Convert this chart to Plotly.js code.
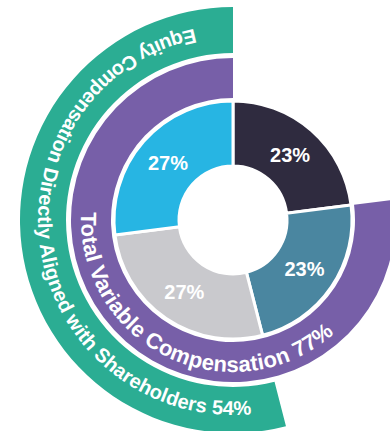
<!DOCTYPE html>
<html>
<head>
<meta charset="utf-8">
<script src="https://cdn.plot.ly/plotly-3.0.1.min.js"></script>
<style>
  html, body { margin: 0; padding: 0; overflow: hidden; background: #fff; }
  #chart { width: 466px; height: 440px; }
</style>
</head>
<body>
<div id="chart"></div>
<script>
// inner donut: pay mix shares (clockwise from 12 o'clock)
const innerValues = [23, 23, 27, 27];
const innerColors = ['#2f2b3f', '#4a86a0', '#c9c9cd', '#27b5e3'];

// outer rings
const variableShare = 77;   // purple ring
const equityShare = 54;     // green ring
const variableLabel = 'Total Variable Compensation ' + variableShare + '%';
const equityLabel = 'Equity Compensation Directly Aligned with Shareholders ' + equityShare + '%';

const W = 466, H = 440;           // figure is wider than the window, centre sits at (233, 220)
const CX = W / 2, CY = H / 2;

// pie domain centred on the figure with a given pixel radius
function dom(r) {
    return { x: [0.5 - r / W, 0.5 + r / W], y: [0.5 - r / H, 0.5 + r / H] };
}

const common = {
    type: 'pie',
    sort: false,
    direction: 'clockwise',
    rotation: 0,
    hoverinfo: 'skip',
    showlegend: false
};

const greenRing = Object.assign({}, common, {
    values: [100 - equityShare, equityShare],
    domain: dom(213),
    hole: 167 / 213,
    textinfo: 'none',
    marker: { colors: ['rgba(0,0,0,0)', '#2bad93'], line: { width: 0 } }
});

const purpleRing = Object.assign({}, common, {
    values: [100 - variableShare, variableShare],
    domain: dom(162),
    hole: 122 / 162,
    textinfo: 'none',
    marker: { colors: ['rgba(0,0,0,0)', '#775fa8'], line: { width: 0 } }
});

const innerDonut = Object.assign({}, common, {
    values: innerValues,
    domain: dom(119),
    hole: 54 / 119,
    texttemplate: '%{value}%',
    textposition: 'inside',
    insidetextorientation: 'horizontal',
    textfont: { family: 'Liberation Sans, Arial, sans-serif', size: 20, color: '#ffffff', weight: 'bold' },
    marker: { colors: innerColors, line: { color: '#ffffff', width: 3 } }
});

const layout = {
    width: W,
    height: H,
    margin: { l: 0, r: 0, t: 0, b: 0 },
    paper_bgcolor: '#ffffff',
    showlegend: false
};

// curved ring labels, angles counted counter-clockwise from 12 o'clock
const arcLabels = [
    { text: equityLabel, r: 195, from: 11.5, to: 185.5, size: 20 },
    { text: variableLabel, r: 152, from: 87, to: 221.5, size: 22 }
];

function pt(r, deg) {
    const a = deg * Math.PI / 180;
    return [CX - r * Math.sin(a), CY - r * Math.cos(a)];
}

function addArcText() {
    const svg = document.querySelector('#chart .main-svg');
    const ns = 'http://www.w3.org/2000/svg';
    const ctx = document.createElement('canvas').getContext('2d');
    const g = document.createElementNS(ns, 'g');
    arcLabels.forEach(function(lab, i) {
        const p0 = pt(lab.r, lab.from), p1 = pt(lab.r, lab.to);
        const large = (lab.to - lab.from) > 180 ? 1 : 0;
        const path = document.createElementNS(ns, 'path');
        path.setAttribute('id', 'arc' + i);
        path.setAttribute('fill', 'none');
        path.setAttribute('d', 'M' + p0[0] + ',' + p0[1] + ' A' + lab.r + ',' + lab.r + ' 0 ' + large + ' 0 ' + p1[0] + ',' + p1[1]);
        g.appendChild(path);

        // spread letters so the label fills its arc
        const font = 'bold ' + lab.size + 'px "Liberation Sans", Arial, sans-serif';
        ctx.font = font;
        const arcLen = lab.r * (lab.to - lab.from) * Math.PI / 180;
        const spacing = (arcLen - ctx.measureText(lab.text).width) / (lab.text.length - 1);

        const t = document.createElementNS(ns, 'text');
        t.setAttribute('fill', '#ffffff');
        t.setAttribute('style', 'font:' + font + ';letter-spacing:' + spacing + 'px');
        const tp = document.createElementNS(ns, 'textPath');
        tp.setAttribute('href', '#arc' + i);
        tp.setAttribute('startOffset', '0');
        tp.textContent = lab.text;
        t.appendChild(tp);
        g.appendChild(t);
    });
    svg.appendChild(g);
}

Plotly.newPlot('chart', [greenRing, purpleRing, innerDonut], layout, { staticPlot: true })
    .then(addArcText);
</script>
</body>
</html>
